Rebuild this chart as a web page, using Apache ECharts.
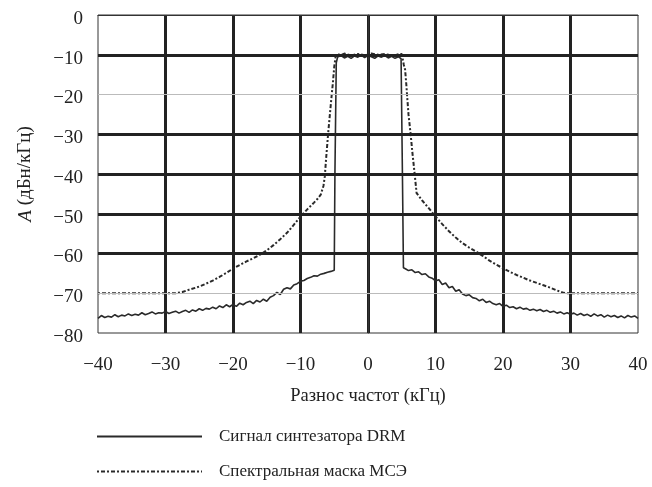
<!DOCTYPE html>
<html>
<head>
<meta charset="utf-8">
<script src="https://cdn.jsdelivr.net/npm/echarts@6/dist/echarts.min.js"></script>
<style>html,body{margin:0;padding:0;background:#fff}#c{width:652px;height:487px}</style>
</head>
<body>
<div id="c"></div>
<script>
const xTicks = [-40, -30, -20, -10, 0, 10, 20, 30, 40];
const yTicks = [-80, -70, -60, -50, -40, -30, -20, -10, 0];
const thickGridY = [-10, -30, -40, -50, -60];
const thinGridY = [-20, -70];
const seriesNames = ['Сигнал синтезатора DRM', 'Спектральная маска МСЭ'];

const sigX = [-40,-39.5,-39,-38.5,-38,-37.5,-37,-36.5,-36,-35.5,-35,-34.5,-34,-33.5,-33,-32.5,-32,-31.5,-31,-30.5,-30,-29.5,-29,-28.5,-28,-27.5,-27,-26.5,-26,-25.5,-25,-24.5,-24,-23.5,-23,-22.5,-22,-21.5,-21,-20.5,-20,-19.5,-19,-18.5,-18,-17.5,-17,-16.5,-16,-15.5,-15,-14.5,-14,-13.5,-13,-12.5,-12,-11.5,-11,-10.5,-10,-9.5,-9,-8.5,-8,-7.5,-7,-6.5,-6,-5.5,-5.0,-4.9,-4.7,-4.5,-4,-3.5,-3,-2.5,-2,-1.5,-1,-0.5,0,0.5,1,1.5,2,2.5,3,3.5,4,4.5,4.9,5.1,5.25,5.6,6,6.5,7,7.5,8,8.5,9,9.5,10,10.5,11,11.5,12,12.5,13,13.5,14,14.5,15,15.5,16,16.5,17,17.5,18,18.5,19,19.5,20,20.5,21,21.5,22,22.5,23,23.5,24,24.5,25,25.5,26,26.5,27,27.5,28,28.5,29,29.5,30,30.5,31,31.5,32,32.5,33,33.5,34,34.5,35,35.5,36,36.5,37,37.5,38,38.5,39,39.5,40];
const sigY = [-76.3,-75.6,-76.1,-75.8,-76.0,-75.4,-75.9,-75.5,-75.7,-75.2,-75.6,-75.3,-75.5,-74.9,-75.4,-75.1,-74.7,-75.2,-74.9,-75.0,-74.6,-75.1,-74.8,-74.5,-75.0,-74.6,-74.3,-74.8,-74.2,-74.5,-73.9,-74.3,-73.8,-74.0,-73.5,-73.9,-73.2,-73.6,-72.9,-73.4,-72.8,-73.3,-72.5,-72.9,-72.3,-72.0,-72.6,-71.8,-72.2,-71.5,-72.0,-71.0,-70.6,-69.8,-70.3,-69.0,-68.6,-68.9,-67.9,-67.6,-67.0,-66.8,-66.3,-66.0,-65.6,-65.7,-65.2,-65.0,-64.7,-64.5,-64.2,-40,-12,-10.6,-10.2,-10.8,-10.4,-10.9,-10.3,-10.6,-10.1,-10.7,-10.2,-10.5,-10.9,-10.3,-10.6,-10.2,-10.8,-10.4,-10.9,-10.5,-11.0,-40,-63.6,-63.9,-64.3,-64.1,-64.8,-64.6,-65.3,-65.1,-65.9,-66.2,-66.9,-66.6,-67.8,-67.4,-68.6,-68.3,-69.5,-69.1,-70.2,-70.6,-70.4,-71.1,-71.3,-71.9,-71.5,-72.3,-72.0,-72.6,-72.9,-72.6,-73.3,-73.0,-73.6,-73.4,-73.9,-73.5,-74.0,-73.8,-74.3,-74.0,-74.4,-74.1,-74.6,-74.3,-74.8,-74.5,-75.0,-74.7,-75.2,-74.9,-75.3,-75.0,-75.5,-75.1,-75.6,-75.3,-75.8,-75.2,-75.7,-75.4,-76.0,-75.5,-75.9,-75.6,-76.1,-75.7,-76.2,-75.6,-76.0,-75.7,-76.3];

const maskX = [-40,-28.5,-27.5,-26.5,-25.5,-25,-24,-23,-22,-21,-20,-19,-18,-17,-16,-15,-14,-13,-12,-11,-10,-9,-8,-7.5,-7,-6.6,-6.4,-6.2,-5.9,-5.7,-5.4,-5.2,-5.0,-4.8,-4.6,-4,-3.5,-2.5,-1.5,-0.5,0.5,1.5,2.5,3.5,4.5,5.0,5.3,5.5,5.7,5.8,6.0,6.3,6.6,6.9,7.2,8,9,10,11,12,13,14,15,16,17,18,19,20,21,22,23,24,25,26,27,28,29,29.5,40];
const maskY = [-70,-70,-69.7,-69.1,-68.6,-68.3,-67.6,-66.8,-65.9,-64.9,-63.8,-62.9,-62.0,-61.2,-60.3,-59.2,-57.9,-56.4,-54.8,-52.8,-50.7,-48.9,-47.2,-46.3,-45.2,-43.0,-40.6,-36,-29.7,-26,-20.5,-17,-13,-10.5,-9.8,-10.1,-9.7,-10.2,-9.8,-10.1,-9.7,-10.0,-9.8,-10.2,-9.9,-9.8,-12.5,-13.8,-18,-20.5,-25,-29.7,-35,-39.8,-44.8,-46.6,-48.6,-50.7,-52.6,-54.4,-56.0,-57.4,-58.5,-59.5,-60.6,-61.8,-62.8,-63.7,-64.6,-65.4,-66.1,-66.8,-67.4,-68.0,-68.6,-69.3,-69.9,-70,-70];

const zip = (xs, ys) => xs.map((x, i) => [x, ys[i]]);
const minus = v => String(v).replace('-', '\u2212');
const FONT = 'Liberation Serif';
const INK = '#222';

const legendBase = {
  orient: 'vertical', left: 91,
  itemWidth: 105, itemHeight: 14,
  itemStyle: {color: 'transparent', borderColor: 'transparent', borderWidth: 0},
  textStyle: {fontFamily: FONT, fontSize: 17, color: INK, padding: [0, 0, 0, 12]},
  selectedMode: false
};

const chart = echarts.init(document.getElementById('c'), null, {renderer: 'canvas'});
chart.setOption({
  animation: false,
  backgroundColor: '#fff',
  color: ['#2a2a2a', '#2a2a2a', '#2a2a2a'],
  textStyle: {fontFamily: FONT, color: INK},
  grid: {left: 98, right: 14, top: 15, bottom: 154, show: true, borderColor: '#333', borderWidth: 1, backgroundColor: 'transparent'},
  legend: [
    Object.assign({}, legendBase, {top: 423, data: [seriesNames[0]]}),
    Object.assign({}, legendBase, {top: 458, data: [seriesNames[1]]})
  ],
  xAxis: {
    type: 'value', min: xTicks[0], max: xTicks[xTicks.length - 1], interval: 10,
    name: 'Разнос частот (кГц)', nameLocation: 'middle', nameGap: 54,
    nameTextStyle: {fontFamily: FONT, fontSize: 18.5, color: INK},
    axisLine: {show: true, lineStyle: {color: '#333', width: 1}},
    axisTick: {show: false},
    axisLabel: {fontFamily: FONT, fontSize: 19, color: INK, margin: 23, formatter: minus},
    splitLine: {show: true, showMinLine: false, showMaxLine: false, lineStyle: {color: INK, width: 3}}
  },
  yAxis: {
    type: 'value', min: yTicks[0], max: yTicks[yTicks.length - 1], interval: 10,
    name: '{i|A} (дБн/кГц)', nameLocation: 'middle', nameGap: 63,
    nameTextStyle: {fontFamily: FONT, fontSize: 19, color: INK, rich: {i: {fontFamily: FONT, fontSize: 19, fontStyle: 'italic', color: INK}}},
    axisLine: {show: true, lineStyle: {color: '#333', width: 1}},
    axisTick: {show: false},
    axisLabel: {fontFamily: FONT, fontSize: 19, color: INK, margin: 15, verticalAlign: 'top', lineHeight: 8, formatter: minus},
    splitLine: {show: false}
  },
  series: [
    {
      name: '_grid', type: 'line', data: [], z: 1, silent: true,
      markLine: {
        silent: true, symbol: ['none', 'none'], label: {show: false}, animation: false,
        data: thickGridY.map(v => ({yAxis: v, lineStyle: {color: INK, width: 3, type: 'solid'}}))
          .concat(thinGridY.map(v => ({yAxis: v, lineStyle: {color: '#bbb', width: 1, type: 'solid'}})))
      }
    },
    {
      name: seriesNames[1], type: 'line', data: zip(maskX, maskY), z: 3,
      symbol: 'none', showSymbol: false, color: '#2a2a2a',
      lineStyle: {color: '#2a2a2a', width: 2, type: [2, 2, 4, 2]}
    },
    {
      name: seriesNames[0], type: 'line', data: zip(sigX, sigY), z: 4,
      symbol: 'none', showSymbol: false, color: '#2a2a2a',
      lineStyle: {color: '#2a2a2a', width: 1.6}
    }
  ]
});
</script>
</body>
</html>
